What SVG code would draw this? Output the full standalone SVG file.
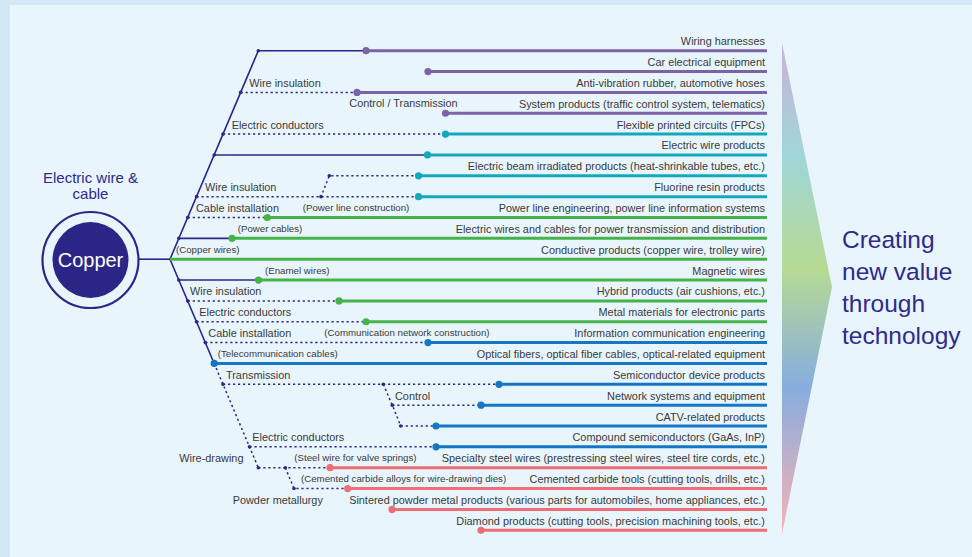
<svg xmlns="http://www.w3.org/2000/svg" width="972" height="557" viewBox="0 0 972 557">
<defs>
<linearGradient id="grad" gradientUnits="userSpaceOnUse" x1="0" y1="43" x2="0" y2="534">
<stop offset="0" stop-color="#cbb3d6"/>
<stop offset="0.23" stop-color="#9fd6d9"/>
<stop offset="0.46" stop-color="#b6da93"/>
<stop offset="0.7" stop-color="#87addf"/>
<stop offset="1" stop-color="#f8b3b3"/>
</linearGradient>
<style>
.lbl{font-family:"Liberation Sans",Arial,sans-serif;font-size:10.9px;fill:#3a3a3a}
.sm{font-family:"Liberation Sans",Arial,sans-serif;font-size:9.7px;fill:#3a3a3a}
.r{text-anchor:end}
.trunk{stroke:#2b2788;stroke-width:1.6;fill:none}
.dot{stroke:#2b2788;stroke-width:1.5;stroke-dasharray:2.2 2.8;fill:none}
.jn{fill:#2b2788}
.pu{stroke:#7d62a8;fill:#7d62a8}
.te{stroke:#14a8bd;fill:#14a8bd}
.gr{stroke:#46b34a;fill:#46b34a}
.bl{stroke:#1576c5;fill:#1576c5}
.pk{stroke:#ee6d76;fill:#ee6d76}
line.c{stroke-width:3}
circle.c{stroke:none}
.big{font-family:"Liberation Sans",Arial,sans-serif;fill:#2e2a8c}
</style>
</defs>
<rect x="0" y="0" width="972" height="557" fill="#d3e7f7"/>
<rect x="10" y="5" width="962" height="552" fill="#e9f5fd"/>

<g id="arrow">
<polygon points="782,43 832,287 782,534" fill="url(#grad)"/>
</g>
<g id="slogan">
<text class="big" x="842" y="248" font-size="24.5">Creating</text>
<text class="big" x="842" y="280" font-size="24.5">new value</text>
<text class="big" x="842" y="312" font-size="24.5">through</text>
<text class="big" x="842" y="343.5" font-size="24.5">technology</text>
</g>

<g id="copper">
<text class="big" x="90.5" y="182.7" font-size="15" text-anchor="middle">Electric wire &amp;</text>
<text class="big" x="90.5" y="199" font-size="15" text-anchor="middle">cable</text>
<circle cx="90.5" cy="260" r="48" fill="none" stroke="#2b2788" stroke-width="2.2"/>
<circle cx="90.5" cy="260" r="38" fill="#2b2685"/>
<text x="90.5" y="266.5" font-family="Liberation Sans,Arial,sans-serif" font-size="20" fill="#ffffff" text-anchor="middle">Copper</text>
</g>

<g id="connectors">
<line class="trunk" x1="138.5" y1="259.2" x2="170" y2="259.2" stroke-width="2.6"/>
<polyline class="trunk" points="258.3,50.7 170,259.2 214.2,363.45"/>
<line class="trunk" x1="258.3" y1="50.7" x2="366" y2="50.7"/>
<line class="trunk" x1="214.2" y1="154.95" x2="427.5" y2="154.95"/>
<line class="trunk" x1="178.8" y1="238.35" x2="232" y2="238.35"/>
<line class="trunk" x1="178.8" y1="280.05" x2="258.5" y2="280.05"/>
<line class="dot" x1="240.6" y1="92.4" x2="357" y2="92.4"/>
<line class="dot" x1="223" y1="134.1" x2="445.5" y2="134.1"/>
<polyline class="dot" points="418.5,175.8 329.3,175.8 321,196.65"/>
<line class="dot" x1="196.5" y1="196.65" x2="418.5" y2="196.65"/>
<line class="dot" x1="187.7" y1="217.5" x2="267.3" y2="217.5"/>
<line class="dot" x1="187.7" y1="300.9" x2="339" y2="300.9"/>
<line class="dot" x1="196.5" y1="321.75" x2="366" y2="321.75"/>
<line class="dot" x1="205.3" y1="342.6" x2="428" y2="342.6"/>
<line class="dot" x1="214.2" y1="363.45" x2="258.3" y2="467.7"/>
<line class="dot" x1="223" y1="384.3" x2="499" y2="384.3"/>
<polyline class="dot" points="383.3,384.3 392.3,405.15 400.7,426"/>
<line class="dot" x1="392.3" y1="405.15" x2="481" y2="405.15"/>
<line class="dot" x1="400.7" y1="426" x2="436" y2="426"/>
<line class="dot" x1="249.5" y1="446.85" x2="436" y2="446.85"/>
<line class="dot" x1="258.3" y1="467.7" x2="330" y2="467.7"/>
<polyline class="dot" points="285.3,467.7 294,488.55 347.7,488.55"/>
<g class="jn">
<circle cx="258.3" cy="50.7" r="1.8"/><circle cx="240.6" cy="92.4" r="1.8"/><circle cx="223" cy="134.1" r="1.8"/>
<circle cx="214.2" cy="154.95" r="1.8"/><circle cx="196.5" cy="196.65" r="1.8"/><circle cx="187.7" cy="217.5" r="1.8"/>
<circle cx="178.8" cy="238.35" r="1.8"/><circle cx="321" cy="196.65" r="1.8"/><circle cx="329.3" cy="175.8" r="1.8"/>
<circle cx="178.8" cy="280.05" r="1.8"/><circle cx="187.7" cy="300.9" r="1.8"/><circle cx="196.5" cy="321.75" r="1.8"/>
<circle cx="205.3" cy="342.6" r="1.8"/><circle cx="223" cy="384.3" r="1.8"/><circle cx="383.3" cy="384.3" r="1.8"/>
<circle cx="392.3" cy="405.15" r="1.8"/><circle cx="400.7" cy="426" r="1.8"/><circle cx="249.5" cy="446.85" r="1.8"/>
<circle cx="258.3" cy="467.7" r="1.8"/><circle cx="285.3" cy="467.7" r="1.8"/><circle cx="294" cy="488.55" r="1.8"/>
</g>
</g>

<g id="labels">
<text class="lbl" x="249.3" y="87">Wire insulation</text>
<text class="lbl" x="349.3" y="107.3">Control / Transmission</text>
<text class="lbl" x="231.7" y="128.5">Electric conductors</text>
<text class="lbl" x="205" y="190.5">Wire insulation</text>
<text class="lbl" x="196" y="211.7">Cable installation</text>
<text class="sm" x="302.7" y="211">(Power line construction)</text>
<text class="sm" x="237.7" y="232">(Power cables)</text>
<text class="sm" x="176" y="252.5">(Copper wires)</text>
<text class="sm" x="265" y="273.5">(Enamel wires)</text>
<text class="lbl" x="190" y="294.5">Wire insulation</text>
<text class="lbl" x="199.3" y="315.5">Electric conductors</text>
<text class="lbl" x="208.3" y="336.5">Cable installation</text>
<text class="sm" x="324.3" y="336">(Communication network construction)</text>
<text class="sm" x="217.7" y="357">(Telecommunication cables)</text>
<text class="lbl" x="226" y="378.5">Transmission</text>
<text class="lbl" x="395" y="399.5">Control</text>
<text class="lbl" x="252.3" y="440.8">Electric conductors</text>
<text class="lbl" x="179.3" y="461.5">Wire-drawing</text>
<text class="sm" x="294.3" y="461.3">(Steel wire for valve springs)</text>
<text class="sm" x="301" y="482">(Cemented carbide alloys for wire-drawing dies)</text>
<text class="lbl" x="232.7" y="503.5">Powder metallurgy</text>
</g>

<g id="p01"><line class="c pu" x1="366" y1="50.7" x2="767" y2="50.7"/><circle class="c pu" cx="366" cy="50.7" r="3.6"/><text class="lbl r" x="765" y="45.2">Wiring harnesses</text></g>
<g id="p02"><line class="c pu" x1="428" y1="71.55" x2="767" y2="71.55"/><circle class="c pu" cx="428" cy="71.55" r="3.6"/><text class="lbl r" x="765" y="66">Car electrical equipment</text></g>
<g id="p03"><line class="c pu" x1="357" y1="92.4" x2="767" y2="92.4"/><circle class="c pu" cx="357" cy="92.4" r="3.6"/><text class="lbl r" x="765" y="86.9">Anti-vibration rubber, automotive hoses</text></g>
<g id="p04"><line class="c pu" x1="445.5" y1="113.25" x2="767" y2="113.25"/><circle class="c pu" cx="445.5" cy="113.25" r="3.6"/><text class="lbl r" x="765" y="107.7">System products (traffic control system, telematics)</text></g>
<g id="p05"><line class="c te" x1="445.5" y1="134.1" x2="767" y2="134.1"/><circle class="c te" cx="445.5" cy="134.1" r="3.6"/><text class="lbl r" x="765" y="128.6">Flexible printed circuits (FPCs)</text></g>
<g id="p06"><line class="c te" x1="427.5" y1="154.95" x2="767" y2="154.95"/><circle class="c te" cx="427.5" cy="154.95" r="3.6"/><text class="lbl r" x="765" y="149.4">Electric wire products</text></g>
<g id="p07"><line class="c te" x1="418.5" y1="175.8" x2="767" y2="175.8"/><circle class="c te" cx="418.5" cy="175.8" r="3.6"/><text class="lbl r" x="765" y="170.3">Electric beam irradiated products (heat-shrinkable tubes, etc.)</text></g>
<g id="p08"><line class="c te" x1="418.5" y1="196.65" x2="767" y2="196.65"/><circle class="c te" cx="418.5" cy="196.65" r="3.6"/><text class="lbl r" x="765" y="191.1">Fluorine resin products</text></g>
<g id="p09"><line class="c gr" x1="267.3" y1="217.5" x2="767" y2="217.5"/><circle class="c gr" cx="267.3" cy="217.5" r="3.6"/><text class="lbl r" x="765" y="212">Power line engineering, power line information systems</text></g>
<g id="p10"><line class="c gr" x1="232" y1="238.35" x2="767" y2="238.35"/><circle class="c gr" cx="232" cy="238.35" r="3.6"/><text class="lbl r" x="765" y="232.8">Electric wires and cables for power transmission and distribution</text></g>
<g id="p11"><line class="c gr" x1="170" y1="259.2" x2="767" y2="259.2"/><text class="lbl r" x="765" y="253.7">Conductive products (copper wire, trolley wire)</text></g>
<g id="p12"><line class="c gr" x1="258.5" y1="280.05" x2="767" y2="280.05"/><circle class="c gr" cx="258.5" cy="280.05" r="3.6"/><text class="lbl r" x="765" y="274.5">Magnetic wires</text></g>
<g id="p13"><line class="c gr" x1="339" y1="300.9" x2="767" y2="300.9"/><circle class="c gr" cx="339" cy="300.9" r="3.6"/><text class="lbl r" x="765" y="295.4">Hybrid products (air cushions, etc.)</text></g>
<g id="p14"><line class="c gr" x1="366" y1="321.75" x2="767" y2="321.75"/><circle class="c gr" cx="366" cy="321.75" r="3.6"/><text class="lbl r" x="765" y="316.2">Metal materials for electronic parts</text></g>
<g id="p15"><line class="c bl" x1="428" y1="342.6" x2="767" y2="342.6"/><circle class="c bl" cx="428" cy="342.6" r="3.6"/><text class="lbl r" x="765" y="337.1">Information communication engineering</text></g>
<g id="p16"><line class="c bl" x1="214.2" y1="363.45" x2="767" y2="363.45"/><circle class="c bl" cx="214.2" cy="363.45" r="3.6"/><text class="lbl r" x="765" y="357.9">Optical fibers, optical fiber cables, optical-related equipment</text></g>
<g id="p17"><line class="c bl" x1="499" y1="384.3" x2="767" y2="384.3"/><circle class="c bl" cx="499" cy="384.3" r="3.6"/><text class="lbl r" x="765" y="378.8">Semiconductor device products</text></g>
<g id="p18"><line class="c bl" x1="481" y1="405.15" x2="767" y2="405.15"/><circle class="c bl" cx="481" cy="405.15" r="3.6"/><text class="lbl r" x="765" y="399.6">Network systems and equipment</text></g>
<g id="p19"><line class="c bl" x1="436" y1="426" x2="767" y2="426"/><circle class="c bl" cx="436" cy="426" r="3.6"/><text class="lbl r" x="765" y="420.5">CATV-related products</text></g>
<g id="p20"><line class="c bl" x1="436" y1="446.85" x2="767" y2="446.85"/><circle class="c bl" cx="436" cy="446.85" r="3.6"/><text class="lbl r" x="765" y="441.3">Compound semiconductors (GaAs, InP)</text></g>
<g id="p21"><line class="c pk" x1="330" y1="467.7" x2="767" y2="467.7"/><circle class="c pk" cx="330" cy="467.7" r="3.6"/><text class="lbl r" x="765" y="462.2">Specialty steel wires (prestressing steel wires, steel tire cords, etc.)</text></g>
<g id="p22"><line class="c pk" x1="347.7" y1="488.55" x2="767" y2="488.55"/><circle class="c pk" cx="347.7" cy="488.55" r="3.6"/><text class="lbl r" x="765" y="483">Cemented carbide tools (cutting tools, drills, etc.)</text></g>
<g id="p23"><line class="c pk" x1="392" y1="509.4" x2="767" y2="509.4"/><circle class="c pk" cx="392" cy="509.4" r="3.6"/><text class="lbl r" x="765" y="503.9">Sintered powder metal products (various parts for automobiles, home appliances, etc.)</text></g>
<g id="p24"><line class="c pk" x1="481" y1="530.25" x2="767" y2="530.25"/><circle class="c pk" cx="481" cy="530.25" r="3.6"/><text class="lbl r" x="765" y="524.7">Diamond products (cutting tools, precision machining tools, etc.)</text></g>
</svg>
